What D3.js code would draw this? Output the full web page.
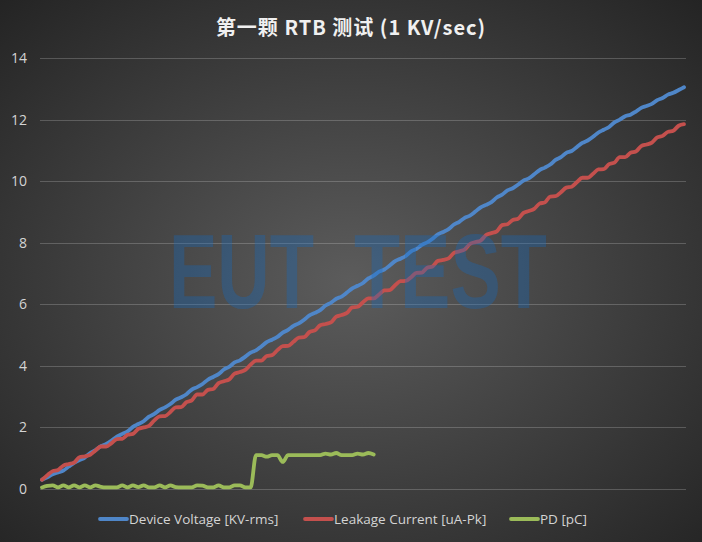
<!DOCTYPE html>
<html><head><meta charset="utf-8">
<script src="https://cdn.jsdelivr.net/npm/d3@7"></script>
<style>html,body{margin:0;padding:0;background:#2a2a2a;}svg{display:block;}</style>
</head><body>
<svg id="c" width="702" height="542"></svg>
<script>
const title = "第一颗 RTB 测试 (1 KV/sec)";
const seriesNames = ["Device Voltage [KV-rms]", "Leakage Current [uA-Pk]", "PD [pC]"];
const yTicks = [0, 2, 4, 6, 8, 10, 12, 14];
const watermarkWords = ["EUT", "TEST"];

const deviceVoltage = [0.30,0.38,0.48,0.54,0.60,0.73,0.85,0.94,1.02,1.17,1.26,1.39,1.46,1.57,1.70,1.79,1.87,2.02,2.11,2.20,
2.35,2.44,2.57,2.65,2.76,2.90,2.98,3.08,3.23,3.31,3.41,3.55,3.64,3.73,3.88,3.97,4.11,4.18,4.30,4.43,
4.50,4.63,4.77,4.85,4.94,5.08,5.17,5.30,5.38,5.50,5.64,5.72,5.81,5.96,6.05,6.18,6.25,6.38,6.52,6.60,
6.69,6.84,6.93,7.06,7.13,7.26,7.40,7.48,7.57,7.72,7.80,7.93,8.01,8.13,8.27,8.35,8.44,8.59,8.68,8.81,
8.88,9.01,9.15,9.23,9.32,9.47,9.56,9.70,9.77,9.89,10.02,10.09,10.22,10.36,10.44,10.54,10.69,10.78,10.92,10.98,
11.11,11.24,11.32,11.44,11.58,11.67,11.76,11.91,12.00,12.11,12.16,12.26,12.38,12.44,12.51,12.63,12.70,12.81,12.87,12.96,
13.05];

const leakageCurrent = [0.30,0.45,0.58,0.62,0.76,0.81,0.86,1.03,1.06,1.11,1.25,1.38,1.38,1.49,1.62,1.63,1.76,1.79,1.95,2.00,
2.05,2.23,2.36,2.37,2.50,2.65,2.66,2.82,2.88,3.07,3.07,3.22,3.25,3.44,3.50,3.56,3.75,3.80,3.87,4.04,
4.17,4.17,4.32,4.35,4.51,4.64,4.65,4.78,4.92,4.93,5.10,5.15,5.32,5.36,5.41,5.60,5.65,5.72,5.90,5.92,
6.07,6.19,6.19,6.32,6.45,6.46,6.62,6.75,6.76,6.88,7.02,7.03,7.19,7.23,7.41,7.44,7.49,7.67,7.72,7.78,
7.96,8.02,8.07,8.25,8.31,8.37,8.57,8.60,8.74,8.78,8.97,9.03,9.10,9.27,9.31,9.50,9.51,9.64,9.79,9.82,
9.97,10.11,10.11,10.24,10.38,10.39,10.55,10.60,10.78,10.78,10.92,10.96,11.14,11.19,11.25,11.42,11.47,11.60,11.64,11.80,
11.85];

const pd = [0.05,0.10,0.12,0.05,0.12,0.05,0.12,0.05,0.12,0.05,0.12,0.07,0.05,0.05,0.05,0.12,0.05,0.12,0.06,0.12,
0.05,0.05,0.12,0.05,0.12,0.06,0.05,0.05,0.05,0.12,0.11,0.05,0.05,0.12,0.05,0.05,0.12,0.12,0.05,0.05,
1.10,1.10,1.05,1.10,1.10,0.88,1.10,1.10,1.10,1.10,1.10,1.10,1.10,1.15,1.12,1.17,1.10,1.10,1.10,1.15,
1.12,1.17,1.12];

const colors = ["#4f86c8", "#c4504d", "#9bbb59"];
const series = [deviceVoltage, leakageCurrent, pd];

const svg = d3.select("#c");
const W = 702, H = 542;
const defs = svg.append("defs");
const rg = defs.append("radialGradient").attr("id","bg").attr("cx","50%").attr("cy","52%").attr("r","72%");
rg.append("stop").attr("offset","0%").attr("stop-color","#5c5c5c");
rg.append("stop").attr("offset","100%").attr("stop-color","#242424");
svg.append("rect").attr("width",W).attr("height",H).attr("fill","url(#bg)");

const n = d3.max(series, s => s.length);
const x = d3.scaleLinear().domain([0, n - 1]).range([42, 684]);
const y = d3.scaleLinear().domain([0, 14]).range([489, 58]);

// gridlines
svg.append("g").selectAll("line").data(yTicks).join("line")
  .attr("x1", 40).attr("x2", 686)
  .attr("y1", d => Math.round(y(d)) + 0.5).attr("y2", d => Math.round(y(d)) + 0.5)
  .attr("stroke", "rgba(255,255,255,0.2)").attr("stroke-width", 1);

// y axis labels
const yAxis = d3.axisLeft(y).tickValues(yTicks).tickSize(0).tickPadding(0);
const ga = svg.append("g").attr("transform","translate(27,0)").call(yAxis);
ga.select(".domain").remove();
ga.selectAll("text").attr("fill","#d4d4d4").attr("font-size","14px")
  .attr("font-family","'Open Sans','Liberation Sans',sans-serif");

// lines
const line = d3.line().x((d,i) => x(i)).y(d => y(d)).curve(d3.curveMonotoneX);
series.forEach((s, k) => {
  svg.append("path").datum(s).attr("d", line)
    .attr("fill","none").attr("stroke", colors[k]).attr("stroke-width", 3.8)
    .attr("stroke-linejoin","round").attr("stroke-linecap","round");
});

// watermark (semi-transparent, over lines), horizontally condensed via scale
const wmX = [169, 354], wmL = [145, 193];
watermarkWords.forEach((w, k) => {
  const g = svg.append("g");
  const t = g.append("text").text(w)
    .attr("x", 0).attr("y", 0)
    .attr("font-family","'Liberation Sans',Arial,sans-serif").attr("font-weight","bold").attr("font-size","106px")
    .attr("fill","rgb(20,105,190)").attr("fill-opacity",0.34);
  const natural = t.node().getComputedTextLength() || 1;
  g.attr("transform", `translate(${wmX[k]},308) scale(${wmL[k] / natural},1)`);
});

// title
svg.append("text").text(title)
  .attr("x", 351).attr("y", 35).attr("text-anchor","middle")
  .attr("font-family","'Noto Sans CJK SC','Noto Sans',sans-serif").attr("font-weight","bold")
  .attr("font-size","20px").attr("letter-spacing","1px").attr("fill","#f0f0f0");

// legend
const legendX = [100, 305, 511];
const lg = svg.append("g");
seriesNames.forEach((name, k) => {
  lg.append("line").attr("x1", legendX[k]).attr("x2", legendX[k] + 27)
    .attr("y1", 519).attr("y2", 519).attr("stroke", colors[k]).attr("stroke-width", 3.8)
    .attr("stroke-linecap","round");
  lg.append("text").text(name).attr("x", legendX[k] + 29).attr("y", 524)
    .attr("font-family","'Open Sans','Liberation Sans',sans-serif").attr("font-size","13.5px")
    .attr("fill","#d4d4d4");
});
</script>
</body></html>
